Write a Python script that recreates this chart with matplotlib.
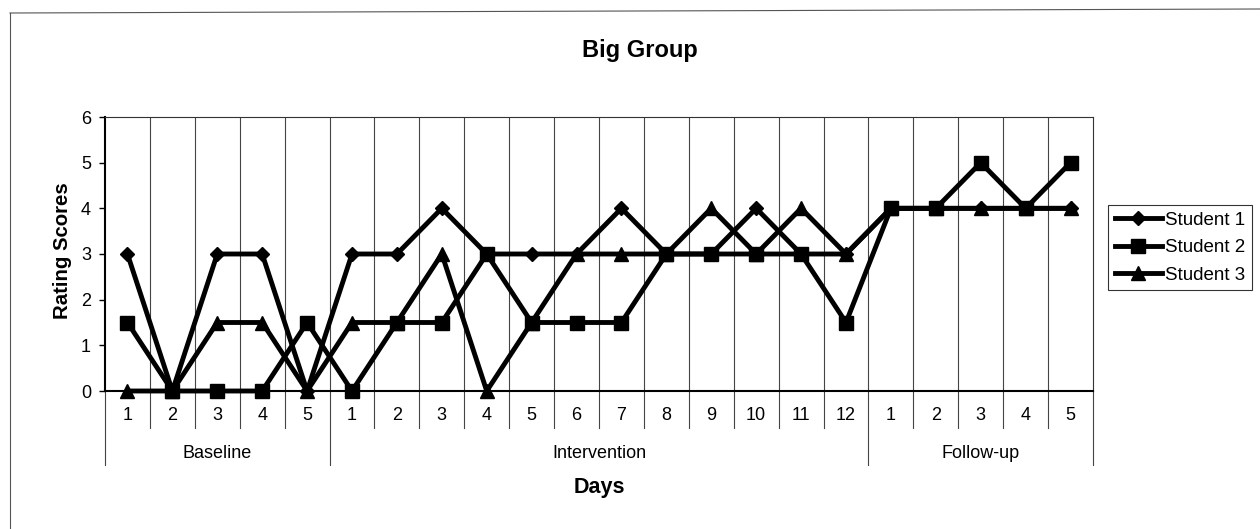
import matplotlib
matplotlib.use("Agg")
import matplotlib.pyplot as plt
from matplotlib.lines import Line2D
import numpy as np

plt.rcParams['font.family'] = ['Liberation Sans', 'DejaVu Sans']

# data
phases = ['Baseline', 'Intervention', 'Follow-up']
phase_days = [5, 12, 5]
day_labels = ['1', '2', '3', '4', '5',
              '1', '2', '3', '4', '5', '6', '7', '8', '9', '10', '11', '12',
              '1', '2', '3', '4', '5']

student1 = [3, 0, 3, 3, 0,
            3, 3, 4, 3, 3, 3, 4, 3, 3, 4, 3, 3,
            4, 4, 4, 4, 4]
student2 = [1.5, 0, 0, 0, 1.5,
            0, 1.5, 1.5, 3, 1.5, 1.5, 1.5, 3, 3, 3, 3, 1.5,
            4, 4, 5, 4, 5]
student3 = [0, 0, 1.5, 1.5, 0,
            1.5, 1.5, 3, 0, 1.5, 3, 3, 3, 4, 3, 4, 3,
            4, 4, 4, 4, 4]

W, H = 1260, 529
fig = plt.figure(figsize=(W / 100, H / 100), dpi=100)
ax = fig.add_axes([105 / W, 1 - 391 / H, (1093 - 105) / W, (391 - 117) / H])
ax_h = 391 - 117  # axes height in px

x = np.arange(len(day_labels))
ax.plot(x, student1, '-', color='black', lw=3.5, marker='D', ms=7,
        label='Student 1', clip_on=False, zorder=3)
ax.plot(x, student2, '-', color='black', lw=3.5, marker='s', ms=9.5,
        label='Student 2', clip_on=False, zorder=3)
ax.plot(x, student3, '-', color='black', lw=3.5, marker='^', ms=9.5,
        label='Student 3', clip_on=False, zorder=3)

ax.set_xlim(-0.5, len(day_labels) - 0.5)
ax.set_ylim(0, 6)
ax.set_yticks(range(0, 7))
ax.tick_params(axis='y', direction='out', length=4, width=1, pad=6, labelsize=13)
ax.set_xticks([])

for side in ['top', 'right']:
    ax.spines[side].set_linewidth(0.8)
    ax.spines[side].set_color('#333333')
for side in ['left', 'bottom']:
    ax.spines[side].set_linewidth(1.5)

# vertical grid at day boundaries + multi level category axis
group_edges = np.cumsum([0] + phase_days) - 0.5
trans = ax.get_xaxis_transform()
for b in np.arange(-0.5, len(day_labels)):
    if -0.5 < b < len(day_labels) - 0.5:
        ax.axvline(b, color='#444444', lw=0.8, zorder=1)
    low = -74 / ax_h if b in group_edges else -37 / ax_h
    ax.add_line(Line2D([b, b], [0, low], transform=trans, color='#444444',
                       lw=0.8, clip_on=False))

for xi, lab in zip(x, day_labels):
    ax.text(xi, -25 / ax_h, lab, transform=trans, ha='center', va='center',
            fontsize=13)

for i, ph in enumerate(phases):
    mid = (group_edges[i] + group_edges[i + 1]) / 2
    ax.text(mid, -62 / ax_h, ph, transform=trans, ha='center', va='center',
            fontsize=13)

ax.text(0.5, -97 / ax_h, 'Days', transform=ax.transAxes, ha='center',
        va='center', fontsize=15.5, fontweight='bold')
fig.text(62 / W, 1 - 251 / H, 'Rating Scores', rotation=90, ha='center',
         va='center', fontsize=14.7, fontweight='bold')
fig.text(640 / W, 1 - 50 / H, 'Big Group', ha='center', va='center',
         fontsize=17, fontweight='bold')

leg = fig.legend(loc='upper left', bbox_to_anchor=(1108 / W, 1 - 205 / H),
                 fontsize=13.5, frameon=True, fancybox=False, edgecolor='black',
                 handlelength=2.55, handletextpad=0.15, labelspacing=0.55,
                 borderpad=0.35, borderaxespad=0)
leg.get_frame().set_linewidth(0.8)

# outer border of the chart area (left and top visible in the scan)
fig.add_artist(Line2D([10 / W, 10 / W], [0, 1 - 13 / H], transform=fig.transFigure,
                      color='#555555', lw=0.8))
fig.add_artist(Line2D([10 / W, 1], [1 - 13 / H, 1 - 9 / H], transform=fig.transFigure,
                      color='#555555', lw=0.8))

plt.savefig('out.png', dpi=100)
